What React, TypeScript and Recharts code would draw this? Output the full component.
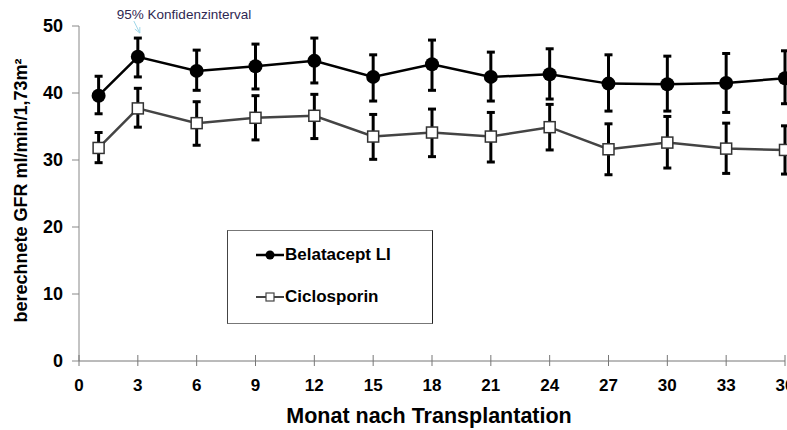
import { CartesianGrid, ErrorBar, Label, Legend, Line, LineChart, ReferenceDot, XAxis, YAxis } from 'recharts';

const months = [1, 3, 6, 9, 12, 15, 18, 21, 24, 27, 30, 33, 36];
const xTicks = [0, 3, 6, 9, 12, 15, 18, 21, 24, 27, 30, 33, 36];
const yTicks = [0, 10, 20, 30, 40, 50];

const belataceptMean = [39.6, 45.4, 43.3, 44.0, 44.8, 42.4, 44.3, 42.4, 42.8, 41.4, 41.3, 41.5, 42.2];
const belataceptLow = [36.9, 42.4, 40.4, 40.6, 41.5, 38.8, 40.4, 38.8, 39.1, 37.3, 37.3, 37.1, 38.4];
const belataceptHigh = [42.5, 48.2, 46.4, 47.3, 48.2, 45.7, 47.9, 46.1, 46.6, 45.7, 45.5, 45.9, 46.3];

const ciclosporinMean = [31.8, 37.7, 35.5, 36.3, 36.6, 33.5, 34.1, 33.5, 34.9, 31.6, 32.6, 31.7, 31.5];
const ciclosporinLow = [29.6, 34.9, 32.2, 33.0, 33.2, 30.1, 30.5, 29.7, 31.5, 27.8, 28.8, 28.0, 27.9];
const ciclosporinHigh = [34.1, 40.7, 38.7, 39.6, 39.8, 36.8, 37.6, 37.1, 38.3, 35.4, 36.5, 35.5, 35.1];

const FONT = '"Liberation Sans", Arial, sans-serif';

const data = months.map((month, i) => ({
  month,
  bel: belataceptMean[i],
  belErr: [belataceptMean[i] - belataceptLow[i], belataceptHigh[i] - belataceptMean[i]],
  cic: ciclosporinMean[i],
  cicErr: [ciclosporinMean[i] - ciclosporinLow[i], ciclosporinHigh[i] - ciclosporinMean[i]],
}));

function XTick({ x, y, payload }: any) {
  return (
    <g>
      <line x1={x} x2={x} y1={y - 6} y2={y + 5} stroke="#777" strokeWidth={1} />
      <text x={x} y={y + 30} textAnchor="middle" fontFamily={FONT} fontWeight="bold" fontSize={17} fill="#000">
        {payload.value}
      </text>
    </g>
  );
}

function SquareDot({ cx, cy, index }: any) {
  if (cx == null || cy == null) return <g key={`sq-${index}`} />;
  return <rect key={`sq-${index}`} x={cx - 5.5} y={cy - 5.5} width={11} height={11} fill="#fff" stroke="#333" strokeWidth={1.5} />;
}

function ConfidenceNote({ cx, cy }: any) {
  return (
    <g>
      <text x={cx - 21} y={cy - 19} fontFamily={FONT} fontSize={13.5} fill="#2f2752">95% Konfidenzinterval</text>
      <line x1={cx - 4} y1={cy - 17} x2={cx + 2} y2={cy - 5} stroke="#9fd6e8" strokeWidth={1} />
      <line x1={cx + 2} y1={cy - 5} x2={cx + 2} y2={cy - 11} stroke="#9fd6e8" strokeWidth={1} />
      <line x1={cx + 2} y1={cy - 5} x2={cx - 3} y2={cy - 9} stroke="#9fd6e8" strokeWidth={1} />
    </g>
  );
}

function LegendBox() {
  const row = { display: 'flex', alignItems: 'center', height: 20, position: 'absolute' as const, left: 27 };
  return (
    <div style={{ position: 'relative', width: 204, height: 92, border: '1.5px solid #777', borderLeftColor: '#444', borderRightColor: '#222', background: '#fff', fontFamily: FONT, fontWeight: 'bold', fontSize: 17, color: '#000' }}>
      <div style={{ ...row, top: 14 }}>
        <svg width={30} height={20}>
          <line x1={1} x2={29} y1={10} y2={10} stroke="#000" strokeWidth={2.5} />
          <circle cx={15} cy={10} r={4.5} fill="#000" />
        </svg>
        <span>Belatacept LI</span>
      </div>
      <div style={{ ...row, top: 56 }}>
        <svg width={30} height={20}>
          <line x1={1} x2={29} y1={10} y2={10} stroke="#444" strokeWidth={2} />
          <rect x={11} y={6} width={8} height={8} fill="#fff" stroke="#444" strokeWidth={1.2} />
        </svg>
        <span>Ciclosporin</span>
      </div>
    </div>
  );
}

export default function App() {
  return (
    <div style={{ position: 'absolute', left: 0, top: 0, width: 787, height: 430, background: '#fff' }}>
      <LineChart width={787} height={430} data={data} margin={{ top: 26, right: 2, left: 0, bottom: 0 }}>
        <CartesianGrid stroke="none" />
        <XAxis
          dataKey="month"
          type="number"
          domain={[0, 36]}
          ticks={xTicks}
          interval={0}
          height={69}
          axisLine={{ stroke: '#777', strokeWidth: 1 }}
          tickLine={false}
          tickSize={0}
          tickMargin={0}
          tick={<XTick />}
        >
          <Label
            content={({ viewBox }: any) => (
              <text x={viewBox.x + viewBox.width / 2 - 3} y={viewBox.y + 62} textAnchor="middle" fontFamily={FONT} fontWeight="bold" fontSize={21.5} fill="#000">
                Monat nach Transplantation
              </text>
            )}
          />
        </XAxis>
        <YAxis
          type="number"
          domain={[0, 50]}
          ticks={yTicks}
          width={79}
          axisLine={{ stroke: '#888', strokeWidth: 1 }}
          tickLine={{ stroke: '#888', strokeWidth: 1 }}
          tickSize={7}
          tickMargin={9}
          tick={{ fontFamily: FONT, fontWeight: 'bold', fontSize: 18, fill: '#000' }}
        >
          <Label
            content={({ viewBox }: any) => {
              const cx = viewBox.x + 21;
              const cy = viewBox.y + viewBox.height / 2 - 3;
              return (
                <text x={cx} y={cy} transform={`rotate(-90 ${cx} ${cy})`} textAnchor="middle" dominantBaseline="central" fontFamily={FONT} fontWeight="bold" fontSize={18} fill="#000">
                  berechnete GFR ml/min/1,73m²
                </text>
              );
            }}
          />
        </YAxis>
        <Legend layout="horizontal" verticalAlign="middle" align="center" content={() => <LegendBox />} wrapperStyle={{ position: 'absolute', left: 227, top: 230, width: 207, height: 95 }} />
        <Line
          dataKey="cic"
          type="linear"
          stroke="#444"
          strokeWidth={2.5}
          dot={(props: any) => <SquareDot {...props} />}
          activeDot={false}
          isAnimationActive={false}
        >
          <ErrorBar dataKey="cicErr" width={4} strokeWidth={3} stroke="#000" direction="y" isAnimationActive={false} />
        </Line>
        <Line
          dataKey="bel"
          type="linear"
          stroke="#000"
          strokeWidth={2.5}
          dot={{ r: 7, fill: '#000', stroke: '#000', strokeWidth: 0 }}
          activeDot={false}
          isAnimationActive={false}
        >
          <ErrorBar dataKey="belErr" width={4} strokeWidth={3} stroke="#000" direction="y" isAnimationActive={false} />
        </Line>
        <ReferenceDot x={3} y={48.2} ifOverflow="visible" shape={(props: any) => <ConfidenceNote {...props} />} />
      </LineChart>
    </div>
  );
}
